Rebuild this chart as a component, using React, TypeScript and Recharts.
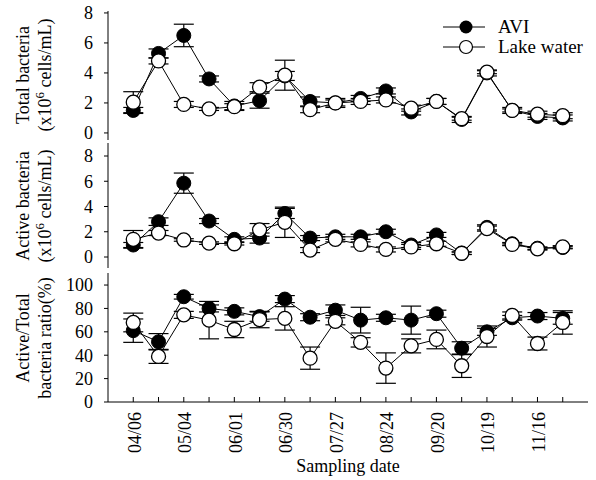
import React from "react";
import { LineChart, Line, XAxis, YAxis, ErrorBar } from "recharts";

// sampling dates, labelled every second one on the axis
const TICK_LABELS = ["04/06", "", "05/04", "", "06/01", "", "06/30", "", "07/27", "", "08/24", "", "09/20", "", "10/19", "", "11/16", ""];

// Total bacteria (x10^6 cells/mL)
const TOTAL_AVI = [1.5, 5.3, 6.5, 3.6, 1.8, 2.15, 3.8, 2.1, 2.0, 2.3, 2.8, 1.4, 2.1, 0.9, 4.0, 1.5, 1.1, 1.0];
const TOTAL_AVI_ERR = [0.2, 0.3, 0.75, 0.2, 0.3, 0.5, 0.3, 0.3, 0.3, 0.2, 0.2, 0.2, 0.2, 0.2, 0.2, 0.2, 0.2, 0.2];
const TOTAL_LAKE = [2.05, 4.8, 1.9, 1.6, 1.75, 3.05, 3.85, 1.55, 2.0, 2.1, 2.2, 1.65, 2.1, 0.95, 4.05, 1.5, 1.25, 1.15];
const TOTAL_LAKE_ERR = [0.7, 0.2, 0.2, 0.1, 0.2, 0.3, 1.0, 0.2, 0.2, 0.2, 0.2, 0.2, 0.2, 0.1, 0.1, 0.1, 0.2, 0.2];

// Active bacteria (x10^6 cells/mL)
const ACTIVE_AVI = [0.95, 2.8, 5.85, 2.85, 1.4, 1.5, 3.45, 1.5, 1.6, 1.6, 2.0, 0.95, 1.75, 0.3, 2.35, 1.05, 0.7, 0.75];
const ACTIVE_AVI_ERR = [0.2, 0.3, 0.8, 0.2, 0.2, 0.4, 0.4, 0.2, 0.2, 0.2, 0.2, 0.2, 0.2, 0.1, 0.2, 0.1, 0.1, 0.1];
const ACTIVE_LAKE = [1.4, 1.9, 1.35, 1.1, 1.05, 2.15, 2.75, 0.55, 1.4, 1.0, 0.6, 0.8, 1.05, 0.3, 2.25, 1.0, 0.65, 0.8];
const ACTIVE_LAKE_ERR = [0.7, 0.2, 0.1, 0.1, 0.1, 0.5, 1.2, 0.2, 0.2, 0.2, 0.2, 0.2, 0.2, 0.1, 0.2, 0.1, 0.1, 0.1];

// Active/Total ratio (%)
const RATIO_AVI = [61, 51.5, 90, 80, 77.5, 73, 88, 72.5, 78.5, 70, 72, 70, 75.5, 46, 60, 72, 73.5, 71.5];
const RATIO_AVI_ERR = [10, 7, 2, 3, 3, 4, 3, 3, 4.5, 11, 3, 12, 3, 5.5, 3, 2, 3, 5];
const RATIO_LAKE = [68, 39, 74.5, 70, 62, 70.5, 71.5, 37.5, 69, 51, 29, 48, 53.5, 31, 56, 74, 50, 68];
const RATIO_LAKE_ERR = [8, 6, 3, 16, 7, 7, 10, 9.5, 3, 4, 13, 6, 8, 10, 9, 3, 5.5, 10];

const IDX = TICK_LABELS.map((_, i) => i);
const FONT = "'Liberation Serif', 'Times New Roman', serif";

const rows = (a: number[], ae: number[], l: number[], le: number[]) =>
  IDX.map((i) => ({ i, avi: a[i], aviErr: ae[i], lake: l[i], lakeErr: le[i] }));

const DateTick = (props: any) => {
  const { x, y, payload, showLabel } = props;
  const label = TICK_LABELS[payload.value];
  return (
    <g>
      <line x1={x} x2={x} y1={y} y2={y - 5} stroke="#000" />
      {showLabel && label ? (
        <text
          x={x + 1}
          y={y + 10}
          transform={`rotate(-90 ${x + 1} ${y + 10})`}
          textAnchor="end"
          dy="0.35em"
          fontSize={18}
          fontFamily={FONT}
          fill="#000"
        >
          {label}
        </text>
      ) : null}
    </g>
  );
};

type PanelProps = {
  top: number;
  height: number;
  mTop: number;
  mBottom: number;
  xHeight: number;
  data: any[];
  domain: [number, number];
  ticks: number[];
  showDates: boolean;
};

function Panel({ top, height, mTop, mBottom, xHeight, data, domain, ticks, showDates }: PanelProps) {
  return (
    <div style={{ position: "absolute", left: 0, top }}>
      <LineChart width={596} height={height} data={data} margin={{ top: mTop, right: 8, bottom: mBottom, left: 0 }}>
        <XAxis
          dataKey="i"
          type="number"
          domain={[-1, 18]}
          ticks={IDX}
          interval={0}
          allowDataOverflow
          height={xHeight}
          tickLine={false}
          tickSize={0}
          tickMargin={0}
          axisLine={{ stroke: "#000" }}
          tick={(p: any) => <DateTick {...p} showLabel={showDates} />}
        />
        <XAxis xAxisId="top" orientation="top" type="number" domain={[-1, 18]} height={0} tick={false} tickLine={false} axisLine={{ stroke: "#000" }} />
        <YAxis
          type="number"
          domain={domain}
          ticks={ticks}
          interval={0}
          allowDataOverflow
          width={108}
          tickSize={4}
          tickMargin={11}
          axisLine={{ stroke: "#000" }}
          tickLine={{ stroke: "#000" }}
          tick={{ fill: "#000", fontSize: 18, fontFamily: FONT }}
        />
        <YAxis yAxisId="r" orientation="right" width={0} tick={false} tickLine={false} axisLine={{ stroke: "#000" }} />
        {/* error bars first so the markers sit on top of them */}
        <Line dataKey="avi" stroke="none" dot={false} activeDot={false} isAnimationActive={false}>
          <ErrorBar dataKey="aviErr" width={10} stroke="#000" strokeWidth={1.2} direction="y" />
        </Line>
        <Line dataKey="lake" stroke="none" dot={false} activeDot={false} isAnimationActive={false}>
          <ErrorBar dataKey="lakeErr" width={10} stroke="#000" strokeWidth={1.2} direction="y" />
        </Line>
        <Line dataKey="avi" stroke="#000" strokeWidth={1} isAnimationActive={false} dot={{ r: 7, fill: "#000", stroke: "#000", strokeWidth: 1 }} />
        <Line dataKey="lake" stroke="#000" strokeWidth={1} isAnimationActive={false} dot={{ r: 7, fill: "#fff", stroke: "#000", strokeWidth: 1.3 }} />
      </LineChart>
    </div>
  );
}

const Title = ({ cy, lines }: { cy: number; lines: React.ReactNode[] }) => (
  <>
    {lines.map((ln, k) => {
      const x = k === 0 ? 29 : 51;
      return (
        <text key={k} x={x} y={cy} transform={`rotate(-90 ${x} ${cy})`} textAnchor="middle" fontSize={18} fontFamily={FONT} fill="#000">
          {ln}
        </text>
      );
    })}
  </>
);

const cells = (
  <>
    (x10<tspan fontSize={13} dy={-7}>6</tspan>
    <tspan dy={7}> cells/mL)</tspan>
  </>
);

export default function App() {
  return (
    <div style={{ position: "absolute", left: 0, top: 0, width: 596, height: 480, background: "#fff" }}>
      <Panel top={0} height={145} mTop={11} mBottom={5} xHeight={0} data={rows(TOTAL_AVI, TOTAL_AVI_ERR, TOTAL_LAKE, TOTAL_LAKE_ERR)} domain={[-0.47, 8.13]} ticks={[0, 2, 4, 6, 8]} showDates={false} />
      <Panel top={141} height={130} mTop={2} mBottom={3} xHeight={0} data={rows(ACTIVE_AVI, ACTIVE_AVI_ERR, ACTIVE_LAKE, ACTIVE_LAKE_ERR)} domain={[-0.87, 9.03]} ticks={[0, 2, 4, 6, 8]} showDates={false} />
      <Panel top={270} height={210} mTop={3} mBottom={0} xHeight={78} data={rows(RATIO_AVI, RATIO_AVI_ERR, RATIO_LAKE, RATIO_LAKE_ERR)} domain={[0, 110.3]} ticks={[0, 20, 40, 60, 80, 100]} showDates={true} />
      <svg width={596} height={480} style={{ position: "absolute", left: 0, top: 0, pointerEvents: "none" }}>
        <Title cy={75} lines={["Total bacteria", cells]} />
        <Title cy={206} lines={["Active bacteria", cells]} />
        <Title cy={338} lines={["Active/Total", "bacteria ratio(%)"]} />
        <text x={348} y={472} textAnchor="middle" fontSize={18} fontFamily={FONT} fill="#000">Sampling date</text>
        <line x1={443} x2={485} y1={27} y2={27} stroke="#000" />
        <circle cx={466} cy={27} r={6.5} fill="#000" />
        <text x={498} y={33} fontSize={19} fontFamily={FONT} fill="#000">AVI</text>
        <line x1={443} x2={485} y1={47} y2={47} stroke="#000" />
        <circle cx={466} cy={47} r={6.5} fill="#fff" stroke="#000" strokeWidth={1.2} />
        <text x={498} y={53} fontSize={19} fontFamily={FONT} fill="#000">Lake water</text>
      </svg>
    </div>
  );
}
